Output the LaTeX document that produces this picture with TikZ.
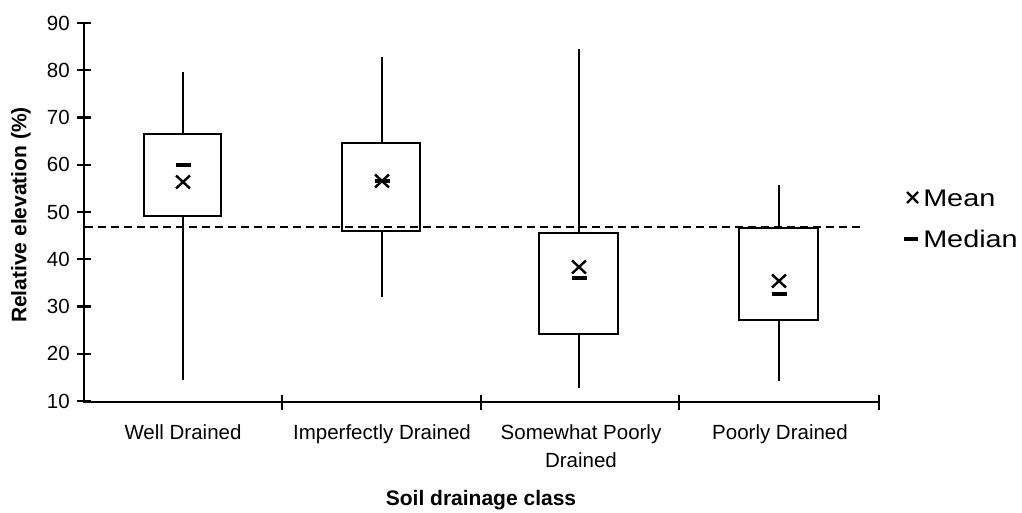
\documentclass[tikz,border=0pt]{standalone}
\usepackage{fontspec}
\setmainfont{Liberation Sans}
\begin{document}
\begin{tikzpicture}[x=1pt,y=-1pt]
\tikzset{
  axisline/.style={line width=2.6pt},
  tickline/.style={line width=2.2pt},
  boxst/.style={draw, line width=2.2pt, fill=white},
  whisk/.style={line width=2.1pt},
  dashline/.style={line width=2pt, dash pattern=on 8pt off 5pt},
  ticklab/.style={anchor=east, inner sep=0pt, font=\fontsize{20.5}{24}\selectfont},
  catlab/.style={anchor=base, inner sep=0pt, align=center, font=\fontsize{20.5}{28}\selectfont},
  boldlab/.style={inner sep=0pt, font=\bfseries\fontsize{21}{24}\selectfont},
  leglab/.style={anchor=base west, inner sep=0pt, xscale=1.2, font=\fontsize{24}{28}\selectfont},
  meanmk/.style={line width=2.4pt},
  medmk/.style={line width=3.8pt}
}
\useasboundingbox (0,0) rectangle (1022,513);
% whiskers and boxes: center, box left, box right, box top, box bottom, whisker top, whisker bottom, mean y, median y
\foreach \cx/\bl/\br/\bt/\bb/\wt/\wb/\my/\md [count=\i] in
  {183/144/221/134/216/72/380/182/165,
   382/342/420/143/231/57/297/181/181,
   579/539/618/233/334/49/388/267/278,
   779/739/818/228/320/185/381/281/294}{
  \coordinate (wt\i) at (\cx,\wt);
  \coordinate (wb\i) at (\cx,\wb);
  \draw[whisk] (wt\i) -- (wb\i);
  \draw[boxst] (\bl,\bt) rectangle (\br,\bb);
  \draw[medmk] (\cx-7.5,\md) -- (\cx+7.5,\md);
  \draw[meanmk] (\cx-7,\my-6.5) -- (\cx+7,\my+6.5);
  \draw[meanmk] (\cx-7,\my+6.5) -- (\cx+7,\my-6.5);
}
% dashed reference line
\coordinate (dl) at (85,227);
\coordinate (dr) at (863,227);
\draw[dashline] (dl) -- (dr);
% axes
\coordinate (o) at (84,402);
\coordinate (ytop) at (84,23);
\coordinate (xend) at (879,402);
\draw[axisline] (ytop) -- (o) -- (xend);
\foreach \v in {10,20,...,90}{
  \pgfmathsetmacro{\yy}{401-(\v-10)*4.725}
  \draw[tickline] (77,\yy) -- (91,\yy);
  \node[ticklab] (yl\v) at (70,\yy) {\v};
}
\foreach \xx in {282,481,679,879}{
  \draw[tickline] (\xx,395) -- (\xx,410);
}
% category labels
\node[catlab] (c1) at (183,439) {Well Drained};
\node[catlab] (c2) at (382,439) {Imperfectly Drained};
\node[catlab, anchor=north] (c3) at (581,424) {Somewhat Poorly\\Drained};
\node[catlab] (c4) at (780,439) {Poorly Drained};
% axis titles
\node[boldlab] (xt) at (481,500) {Soil drainage class};
\node[boldlab, rotate=90] (yt) at (21,215) {Relative elevation (\%)};
% legend
\node[leglab] (lmean) at (923,207) {Mean};
\node[leglab] (lmed) at (923,247) {Median};
\draw[meanmk] (907,192) -- (918,203);
\draw[meanmk] (907,203) -- (918,192);
\draw[medmk] (904,239) -- (918,239);
\end{tikzpicture}
\end{document}
